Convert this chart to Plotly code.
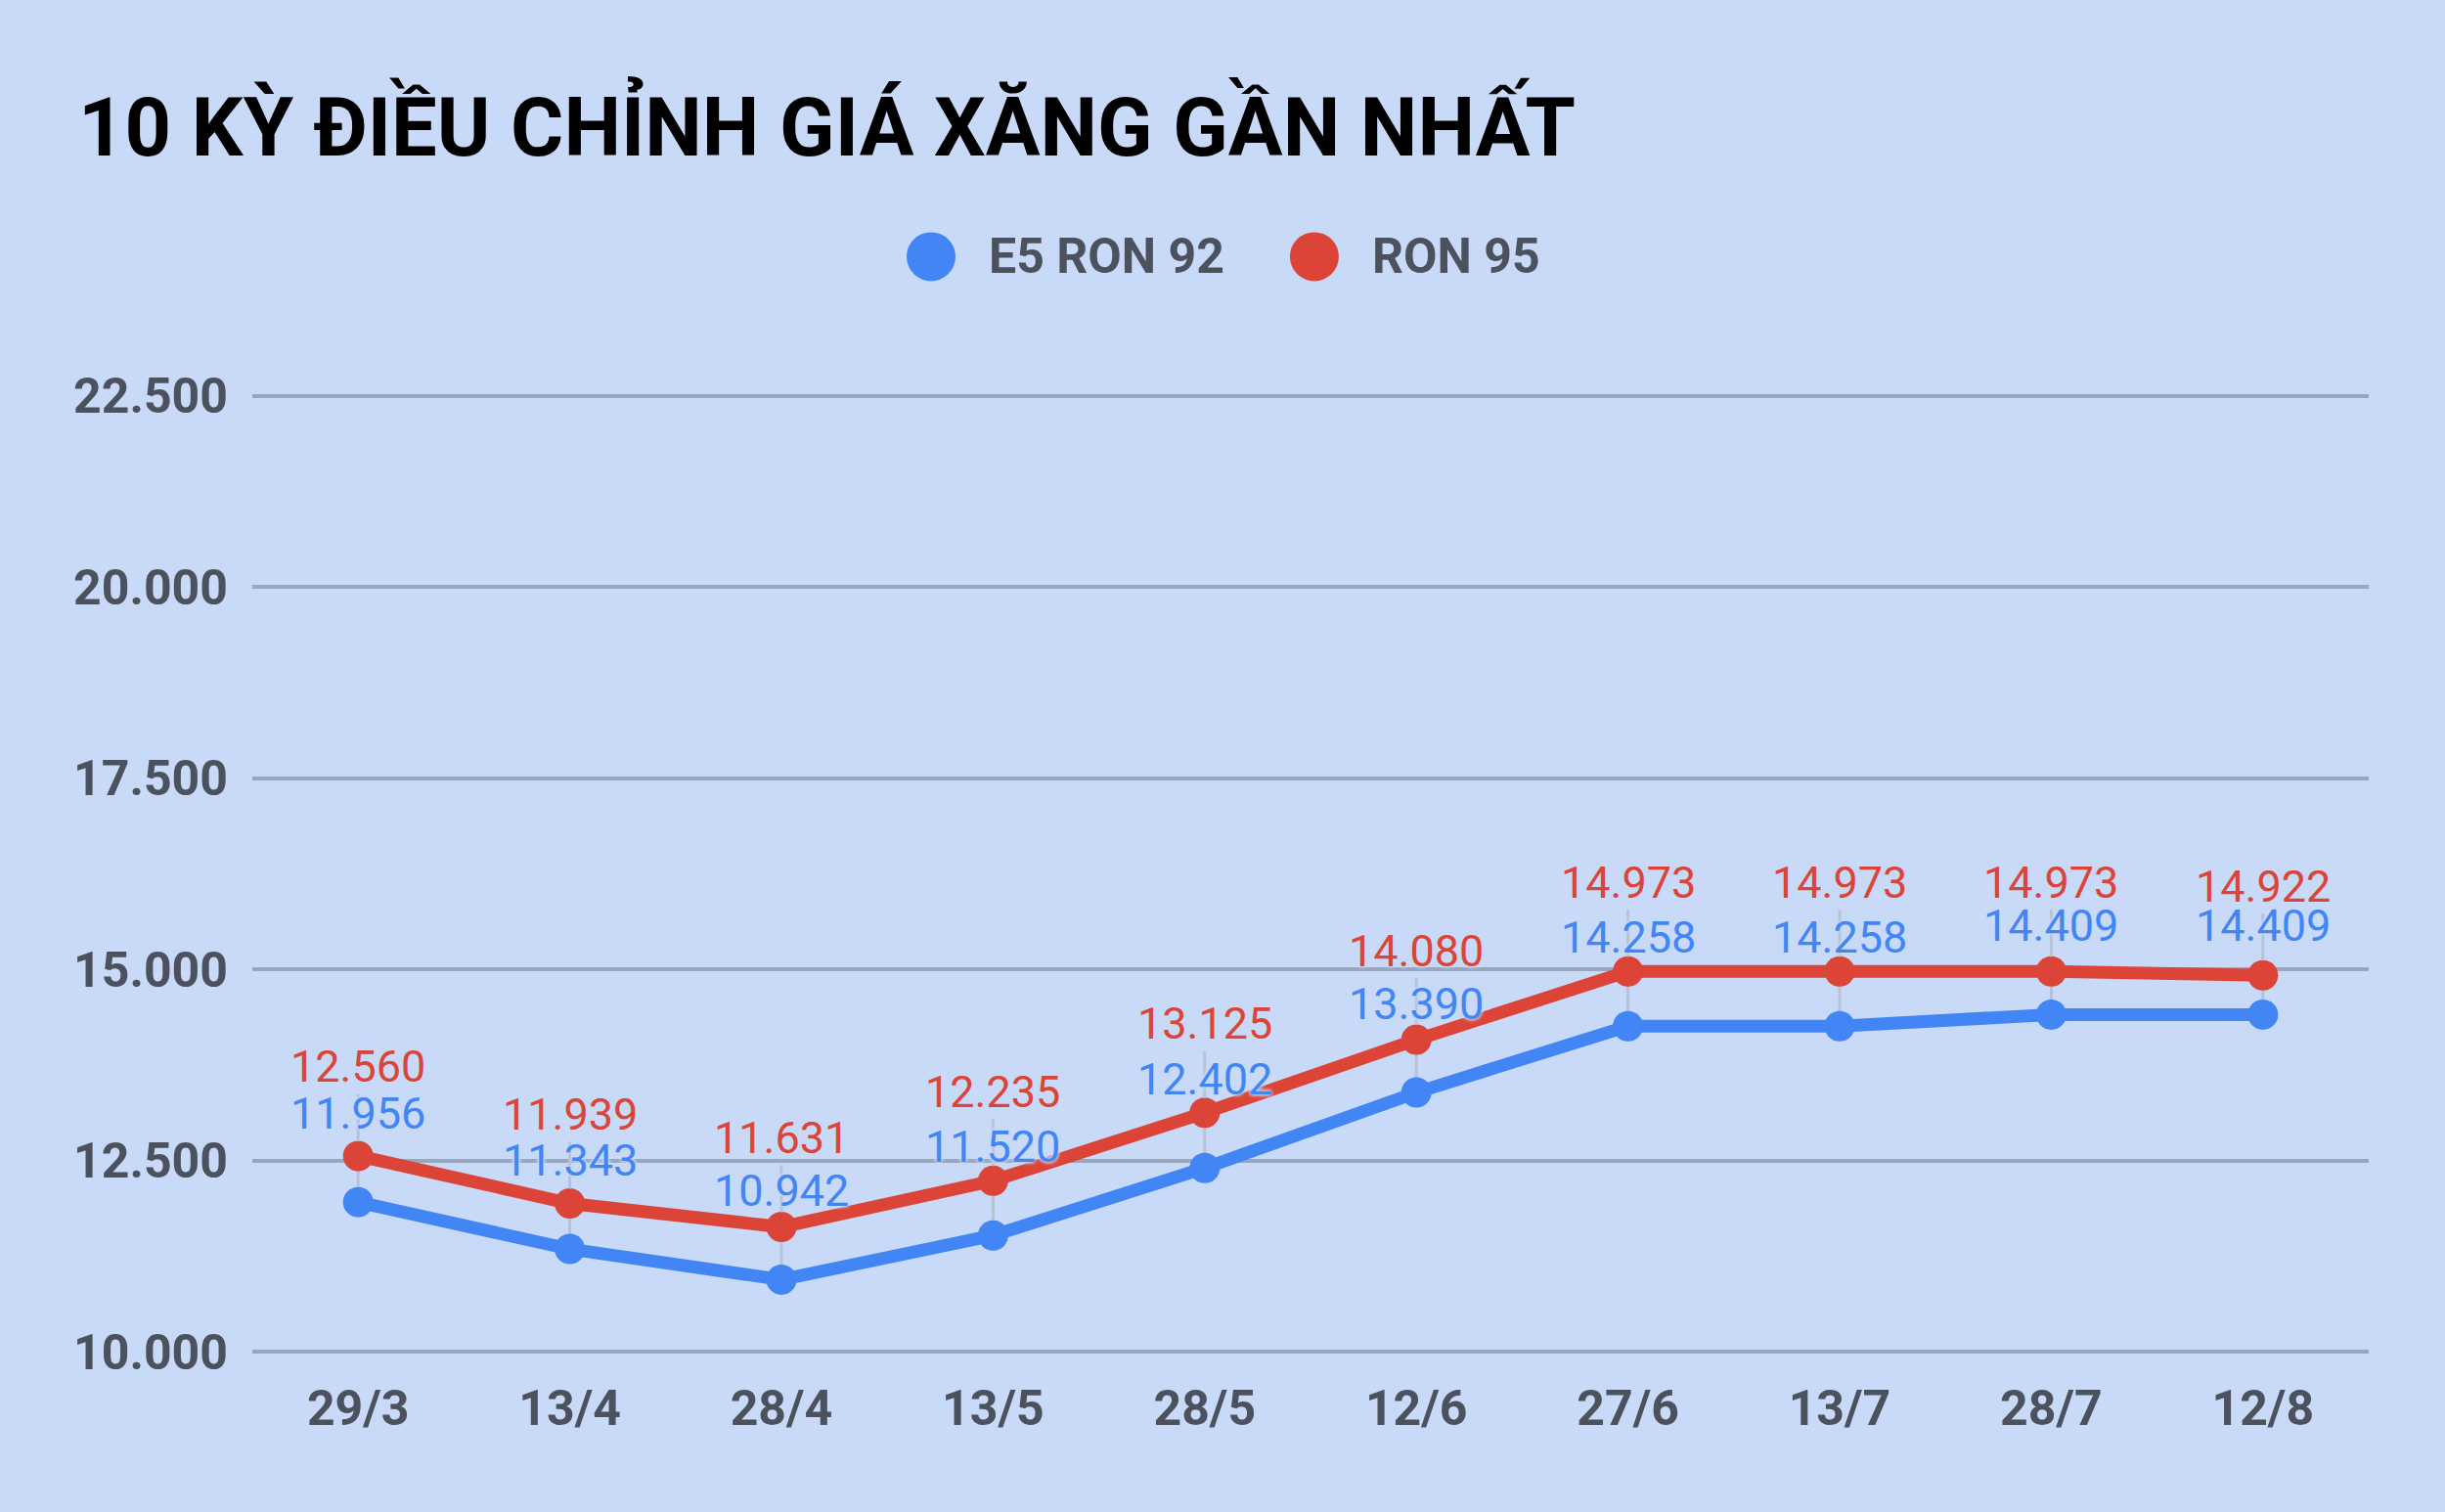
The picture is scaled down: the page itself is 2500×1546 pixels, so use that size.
import plotly.graph_objects as go

# data (dong per litre)
dates = ["29/3", "13/4", "28/4", "13/5", "28/5", "12/6", "27/6", "13/7", "28/7", "12/8"]
e5_ron92 = [11956, 11343, 10942, 11520, 12402, 13390, 14258, 14258, 14409, 14409]
ron95 = [12560, 11939, 11631, 12235, 13125, 14080, 14973, 14973, 14973, 14922]
y_ticks = [10000, 12500, 15000, 17500, 20000, 22500]

bg = "#C9DAF8"
blue = "#4285F4"
red = "#DB4437"
axis_text = "#4B515D"
halo = "0px 0px 4px " + bg + ", 0px 0px 4px " + bg + ", 0px 0px 3px " + bg

def fmt(v):
    return "{:,}".format(v).replace(",", ".")

# faint leader lines between the two points of each date
lx, ly = [], []
for d, b, r in zip(dates, e5_ron92, ron95):
    lx += [d, d, None]
    ly += [b, r, None]

fig = go.Figure()
fig.add_trace(go.Scatter(x=lx, y=ly, mode="lines", line=dict(color="#B6C2D6", width=3),
                         hoverinfo="skip", showlegend=False))
fig.add_trace(go.Scatter(x=dates, y=e5_ron92, name="E5 RON 92", mode="lines+markers",
                         line=dict(color=blue, width=13), marker=dict(size=31, color=blue)))
fig.add_trace(go.Scatter(x=dates, y=ron95, name="RON 95", mode="lines+markers",
                         line=dict(color=red, width=13), marker=dict(size=31, color=red)))

# data labels
for d, b, r in zip(dates, e5_ron92, ron95):
    fig.add_annotation(x=d, y=r, text=fmt(r), showarrow=True, ax=0, ay=-91,
                       arrowhead=0, arrowwidth=3, arrowcolor="#B6C2D6", standoff=15,
                       font=dict(family="Roboto", size=45, color=red, shadow=halo))
    fig.add_annotation(x=d, y=b, text=fmt(b), showarrow=False, yshift=91,
                       font=dict(family="Roboto", size=45, color=blue, shadow=halo))

# legend drawn by hand so the dots can be large
legend_y = 1.1433
legend_items = [("E5 RON 92", blue, 0.3207, 0.347), ("RON 95", red, 0.5018, 0.528)]
for name, col, cx, tx in legend_items:
    fig.add_shape(type="circle", xref="paper", yref="paper", xsizemode="pixel", ysizemode="pixel",
                  xanchor=cx, yanchor=legend_y, x0=-25, x1=25, y0=-25, y1=25,
                  fillcolor=col, line=dict(width=0))
    fig.add_annotation(x=tx, y=legend_y, xref="paper", yref="paper", text=name, showarrow=False,
                       xanchor="left", yanchor="middle",
                       font=dict(family="Roboto", size=50, color=axis_text, weight="bold"))

fig.update_layout(
    width=2500, height=1546,
    paper_bgcolor=bg, plot_bgcolor=bg,
    separators=",.",
    showlegend=False,
    margin=dict(l=258, r=78, t=403, b=162),
    title=dict(text="10 KỲ ĐIỀU CHỈNH GIÁ XĂNG GẦN NHẤT", xref="container", yref="container",
               x=0.032, xanchor="left", y=0.916, yanchor="middle",
               font=dict(family="Roboto", size=83, color="#000000", weight="bold")),
    xaxis=dict(range=[-0.5, 9.5], showgrid=False, zeroline=False, showline=False,
               ticks="", ticklabelstandoff=22,
               tickfont=dict(family="Roboto", size=50, color=axis_text, weight="bold")),
    yaxis=dict(range=[9975, 22525], tickvals=y_ticks, tickformat=",d",
               gridcolor="#98A6BE", gridwidth=4, zeroline=False, showline=False,
               ticks="", ticklabelstandoff=24,
               tickfont=dict(family="Roboto", size=50, color=axis_text, weight="bold")),
)

fig.write_html("out.html", config={"displayModeBar": False},
               post_script="document.body.style.margin='0px';")
